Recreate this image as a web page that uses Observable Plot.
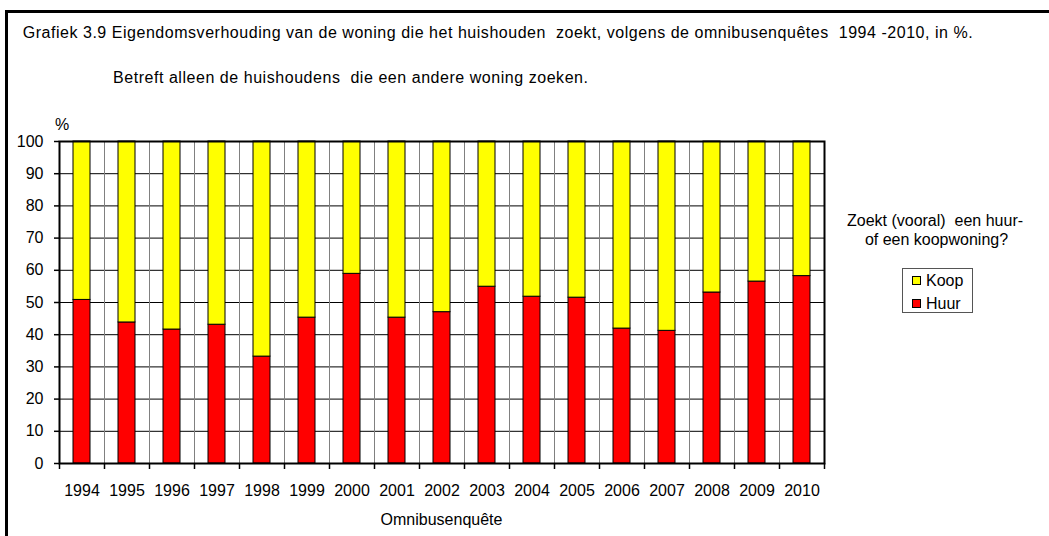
<!DOCTYPE html>
<html>
<head>
<meta charset="utf-8">
<script src="https://cdn.jsdelivr.net/npm/d3@7"></script>
<script src="https://cdn.jsdelivr.net/npm/@observablehq/plot@0.6"></script>
<style>
  html, body { margin: 0; padding: 0; background: #fff; overflow: hidden; }
  #wrap { position: relative; width: 1049px; height: 536px; overflow: hidden; font-family: "Liberation Sans", Arial, sans-serif; color: #000; }
  .t { position: absolute; font-size: 16px; line-height: 16px; white-space: pre; }
  #frame { position: absolute; left: 5px; top: 10px; width: 1200px; height: 700px; border: 3px solid #000; box-sizing: border-box; }
  #chart { position: absolute; left: 0; top: 0; }
  #legbox { position: absolute; left: 902px; top: 268px; width: 71px; height: 45px; border: 1px solid #555; box-sizing: border-box; }
  .sw { position: absolute; width: 9px; height: 9px; border: 1px solid #000; box-sizing: border-box; }
</style>
</head>
<body>
<div id="wrap">
  <div id="frame"></div>
  <div id="chart"></div>
  <div class="t" id="title" style="left:22.7px; top:24.5px;">Grafiek 3.9 Eigendomsverhouding van de woning die het huishouden  zoekt, volgens de omnibusenquêtes  1994 -2010, in %.</div>
  <div class="t" id="subtitle" style="left:113px; top:69.5px;">Betreft alleen de huishoudens  die een andere woning zoeken.</div>
  <div class="t" style="left:55px; top:116.5px;">%</div>
  <div class="t" style="left:341.5px; width:200px; text-align:center; top:511.5px;">Omnibusenquête</div>
  <div class="t" style="left:835px; width:200px; text-align:center; top:213px;">Zoekt (vooral)  een huur-</div>
  <div class="t" style="left:836.5px; width:200px; text-align:center; top:231.5px;">of een koopwoning?</div>
  <div id="legbox"></div>
  <div class="sw" id="swKoop" style="left:911.5px; top:275.5px;"></div>
  <div class="t" id="lbKoop" style="left:926px; top:272.5px;"></div>
  <div class="sw" id="swHuur" style="left:911.5px; top:298.5px;"></div>
  <div class="t" id="lbHuur" style="left:926px; top:295.5px;"></div>
</div>
<script>
// ---- data ----
const years = [1994, 1995, 1996, 1997, 1998, 1999, 2000, 2001, 2002, 2003, 2004, 2005, 2006, 2007, 2008, 2009, 2010];
const huur  = [50.8, 43.8, 41.6, 43.1, 33.2, 45.3, 58.9, 45.3, 47.0, 54.9, 51.8, 51.5, 41.9, 41.2, 53.1, 56.5, 58.2];
const koop  = [49.2, 56.2, 58.4, 56.9, 66.8, 54.7, 41.1, 54.7, 53.0, 45.1, 48.2, 48.5, 58.1, 58.8, 46.9, 43.5, 41.8];
const series = ["Huur", "Koop"];
const colors = ["#FF0000", "#FFFF00"];
const yTicks = [0, 10, 20, 30, 40, 50, 60, 70, 80, 90, 100];

// build table
const rows = [];
years.forEach((y, i) => {
  rows.push({year: y, serie: "Huur", value: huur[i]});
  rows.push({year: y, serie: "Koop", value: koop[i]});
});
const boundaries = years.map(y => y - 0.5).concat([years[years.length - 1] + 0.5]);

const chart = Plot.plot({
  width: 1049,
  height: 536,
  marginLeft: 59,
  marginRight: 225,
  marginTop: 141,
  marginBottom: 73,
  style: {fontFamily: "'Liberation Sans', Arial, sans-serif", fontSize: "16px", background: "transparent", color: "#000"},
  x: {domain: [years[0] - 0.5, years[years.length - 1] + 0.5]},
  y: {domain: [0, 100]},
  color: {domain: series, range: colors},
  marks: [
    Plot.ruleY(yTicks, {y: d => d, stroke: "#000", strokeWidth: 1}),
    Plot.ruleX(boundaries, {x: d => d, stroke: "#808080", strokeWidth: 1}),
    Plot.rectY(rows, Plot.stackY({
      x1: d => d.year - 0.5,
      x2: d => d.year + 0.5,
      y: "value",
      fill: "serie",
      order: series,
      stroke: "#000",
      strokeWidth: 1,
      insetLeft: 14,
      insetRight: 14
    })),
    Plot.frame({stroke: "#000", strokeWidth: 2}),
    Plot.axisY({ticks: yTicks, tickSize: 5, tickPadding: 11, label: null, tickFormat: d => String(d), strokeWidth: 1.5}),
    Plot.axisX({ticks: boundaries, tickSize: 6, tickFormat: () => "", label: null, strokeWidth: 1.5}),
    Plot.axisX({ticks: years, tickSize: 0, tickPadding: 21.6, tickFormat: d => String(d), label: null})
  ]
});
document.getElementById("chart").appendChild(chart);

// legend (from series / colors)
document.getElementById("swKoop").style.background = colors[series.indexOf("Koop")];
document.getElementById("swHuur").style.background = colors[series.indexOf("Huur")];
document.getElementById("lbKoop").textContent = "Koop";
document.getElementById("lbHuur").textContent = "Huur";

// fit title widths to the reference's stretched spacing
function fit(id, target) {
  const el = document.getElementById(id);
  const w = el.getBoundingClientRect().width;
  const n = el.textContent.length - 1;
  if (n > 0) el.style.letterSpacing = ((target - w) / n) + "px";
}
fit("title", 950);
fit("subtitle", 475);
</script>
</body>
</html>
